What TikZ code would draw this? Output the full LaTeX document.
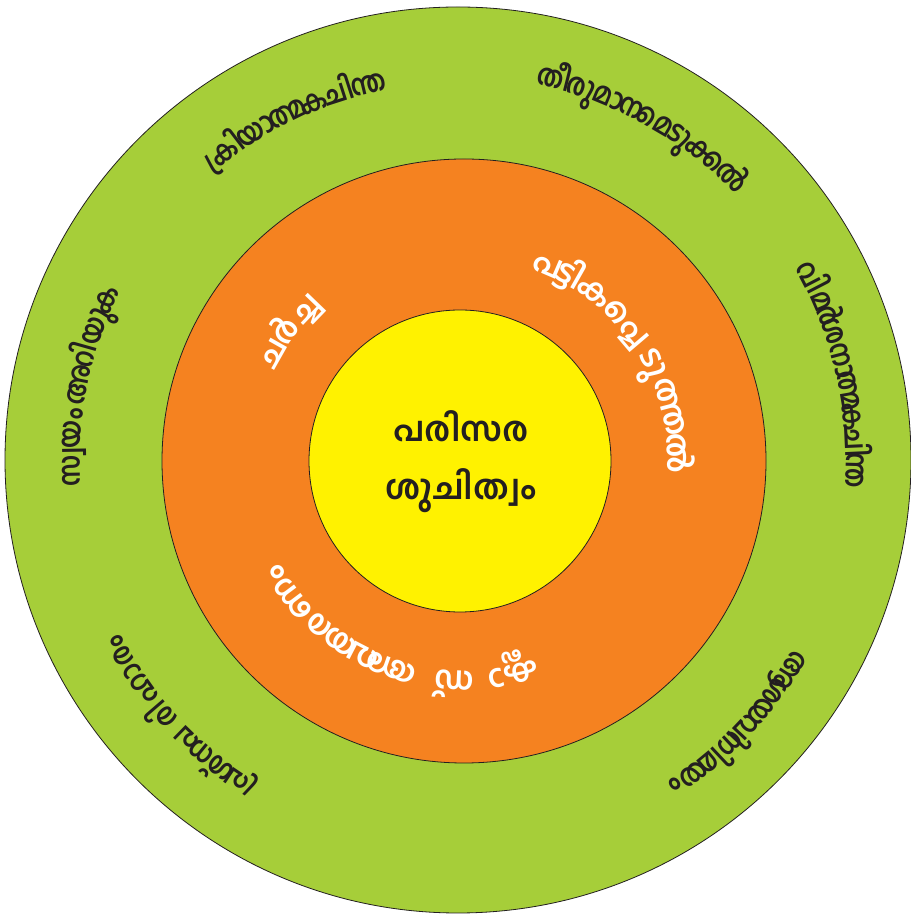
\documentclass[tikz,border=0pt]{standalone}
\usepackage{fontspec}
\newfontfamily\mal[Script=Malayalam]{Hind Kochi}
\newfontfamily\malc[Script=Malayalam,FakeStretch=0.85]{Hind Kochi}
\definecolor{ringgreen}{HTML}{A6CE39}
\definecolor{ringorange}{HTML}{F58220}
\definecolor{ringyellow}{HTML}{FFF200}
\definecolor{ink}{HTML}{231F20}
% #1 name prefix, #2 cx, #3 cy, #4 radius, #5 style, #6 list angle/cluster
\newcommand\arctext[6]{%
  \foreach \a/\c [count=\i] in {#6}{%
    \node[ringglyph, #5, rotate=\a-90] (#1\i) at ({#2+#4*cos(\a)},{#3+#4*sin(\a)}) {\c};%
  }%
}
\begin{document}
\begin{tikzpicture}[x=1pt,y=1pt,
  ring/.style={circle, draw=ink, line width=0.8pt, inner sep=0},
  ringglyph/.style={inner sep=0, text height=0.7em, text depth=0.25em},
  outertext/.style={font=\malc\bfseries\fontsize{30}{33}\selectfont, text=ink},
  innertext/.style={font=\mal\bfseries\fontsize{32}{35}\selectfont, text=white}]
\useasboundingbox (0,0) rectangle (910,915);
\node[ring, fill=ringgreen, minimum size=906] (outer) at (458,455) {};
\node[ring, fill=ringorange, minimum size=604] (middle) at (464,454) {};
\node[ring, fill=ringyellow, minimum size=302] (inner) at (460,454) {};
\node[font=\mal\bfseries\fontsize{34}{58}\selectfont, text=ink, align=center] (title) at (461,453) {പരിസര\\ശുചിത്വം};
\arctext{a}{458}{455}{379}{outertext}{127.3/ക്രി,121.5/യാ,116.2/ത്മ,112.0/ക,107.9/ചി,103.4/ന്ത}
\arctext{b}{458}{455}{386}{outertext}{75.9/തീ,71.7/രു,67.4/മാ,63.8/ന,59.8/മെ,55.6/ടു,51.2/ക്ക,46.0/ൽ}
\arctext{c}{458}{455}{390}{outertext}{27.4/വി,23.6/മ,21.4/ർ,19.0/ശ,14.5/നാ,10.0/ത്മ,6.3/ക,2.6/ചി,-1.5/ന്ത}
\arctext{d}{458}{455}{380}{outertext}{181/സ്വ,175.3/യം,168.8/അ,164.3/റി,159.8/യു,155.6/ക}
\arctext{e}{458}{455}{382}{outertext}{-124/പ്ര,-129.4/ശ്ന,-134.2/പ,-139.2/രി,-144.8/ഹാ,-150.5/രം}
\arctext{f}{458}{455}{386}{outertext}{-32.5/ആ,-36.1/ശ,-39.7/യ,-43.3/വി,-46.8/നി,-50.4/മ,-54/യം}
\arctext{g}{464}{454}{212}{innertext}{150.5/ച,144/ർ,136/ച്ച}
\arctext{h}{464}{454}{206}{innertext}{66.7/പ,60.4/ട്ടി,52.4/ക,40.4/പ്പെ,27.3/ടു,14.7/ത്ത,2.2/ൽ}
\arctext{k}{464}{454}{212}{innertext}{-77/ക്ലാ,-92.5/സ്,-109.5/അ,-117.4/വ,-124.5/ത,-131.6/ര,-143/ണം}
\end{tikzpicture}
\end{document}
